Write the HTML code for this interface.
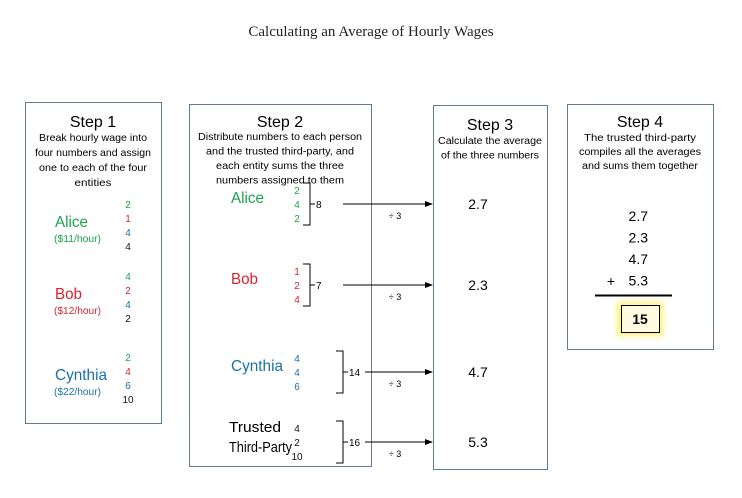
<!DOCTYPE html>
<html><head><meta charset="utf-8"><style>
html,body{margin:0;padding:0;background:#fff}
svg{display:block;font-family:"Liberation Sans",sans-serif}
</style></head><body>
<svg id="c" width="742" height="498" viewBox="0 0 742 498">
<defs>
<marker id="ah" markerWidth="8" markerHeight="6" refX="7" refY="3" orient="auto"><path d="M0,0 L8,3 L0,6 z" fill="#000"/></marker>
<filter id="glow" x="-50%" y="-50%" width="200%" height="200%"><feGaussianBlur stdDeviation="3"/></filter>
</defs>
<text x="371" y="36" text-anchor="middle" font-family="Liberation Serif, serif" font-size="15" fill="#222">Calculating an Average of Hourly Wages</text>
<rect x="25.5" y="102.5" width="136" height="321" fill="none" stroke="#5f7c99"/>
<rect x="189.5" y="104.5" width="182" height="362" fill="none" stroke="#5f7c99"/>
<rect x="433.5" y="105.5" width="114" height="364" fill="none" stroke="#5f7c99"/>
<rect x="567.5" y="104.5" width="146" height="245" fill="none" stroke="#5f7c99"/>
<g id="g" fill="#000"></g>
</svg>
<script>
const people=["Alice","Bob","Cynthia"];
const wages=["($11/hour)","($12/hour)","($22/hour)"];
const colors=["#1aa34a","#d9232d","#1d6fa5","#111"];
const shares=[[2,1,4,4],[4,2,4,2],[2,4,6,10]];
const sums=[8,7,14,16];
const averages=["2.7","2.3","4.7","5.3"];
const total="15";
const g=document.getElementById('g');
const NS="http://www.w3.org/2000/svg";
function T(x,y,s,size,fill,anchor,weight,name,len){const t=document.createElementNS(NS,'text');t.setAttribute('x',x);t.setAttribute('y',y);t.setAttribute('font-size',size);t.setAttribute('fill',fill||'#000');t.setAttribute('text-anchor',anchor||'middle');if(weight)t.setAttribute('font-weight',weight);if(len){t.setAttribute('textLength',len);t.setAttribute('lengthAdjust','spacingAndGlyphs');}t.textContent=s;


g.appendChild(t);return t;}
function L(x1,y1,x2,y2,name,arrow,w){const l=document.createElementNS(NS,'line');l.setAttribute('x1',x1);l.setAttribute('y1',y1);l.setAttribute('x2',x2);l.setAttribute('y2',y2);l.setAttribute('stroke','#000');l.setAttribute('stroke-width',w||1);if(arrow)l.setAttribute('marker-end','url(#ah)');


g.appendChild(l);}
T(93,127,"Step 1",16,'#000','middle',null,'step1-title');
[["Break hourly wage into",108],["four numbers and assign",116],["one to each of the four",108],["entities",37]].forEach((s,i)=>T(93,141+i*15,s[0],10.5,'#000','middle',null,'step1-desc',s[1]));
T(280,127,"Step 2",16,'#000','middle',null,'step2-title');
[["Distribute numbers to each person",164],["and the trusted third-party, and",148],["each entity sums the three",128],["numbers assigned to them",128]].forEach((s,i)=>T(280,140+i*14.5,s[0],10,'#000','middle',null,'step2-desc',s[1]));
T(490,130,"Step 3",16,'#000','middle',null,'step3-title');
[["Calculate the average",104],["of the three numbers",98]].forEach((s,i)=>T(490,144+i*14.5,s[0],10,'#000','middle',null,'step3-desc',s[1]));
T(640,127,"Step 4",16,'#000','middle',null,'step4-title');
[["The trusted third-party",112],["compiles all the averages",122],["and sums them together",116]].forEach((s,i)=>T(640,141+i*14,s[0],10,'#000','middle',null,'step4-desc',s[1]));
const s1Top=[208,280,361];
const nameLen=[33,27,52];
people.forEach((p,i)=>{
  T(55,s1Top[i]+19,p,16,colors[i],'start',null,'step1-name-'+p.toLowerCase(),nameLen[i]);
  T(54,s1Top[i]+34,wages[i],10,colors[i],'start',null,'step1-wage-'+p.toLowerCase(),47);
  shares[i].forEach((v,j)=>T(128,s1Top[i]+j*14,String(v),10,colors[j],'middle',null,'step1-share'));
});
const entities=["Alice","Bob","Cynthia","Trusted"];
const s2Top=[194,275,362,432];
entities.forEach((e,k)=>{
  const y0=s2Top[k];
  if(k<3) T(231,y0+9,e,16,colors[k],'start',null,'step2-name-'+e.toLowerCase(),nameLen[k]);
  else {T(229,y0+0,"Trusted",15,'#000','start',null,'step2-name-trusted',52);T(229,y0+20,"Third-Party",15,'#000','start',null,'step2-name-third-party',63);}
  for(let i=0;i<3;i++) T(297,y0+i*14,String(shares[i][k]),10,colors[k],'middle',null,'step2-share');
  const top=y0-11,bot=y0+31,mid=(top+bot)/2;
  const bx=k<2?310:343;
  const p=document.createElementNS(NS,'path');p.setAttribute('d',`M${bx-7},${top} L${bx},${top} L${bx},${bot} L${bx-7},${bot} M${bx},${mid} L${bx+5},${mid}`);p.setAttribute('fill','none');p.setAttribute('stroke','#000');
  
  
  g.appendChild(p);
  T(bx+6,mid+4,String(sums[k]),10,'#000','start',null,'step2-sum');
  L(k<2?343:365,mid,432,mid,'arrow-to-step3',true);
  T(395,mid+15,"÷ 3",9,'#000','middle',null,'divide-by-3-label');
  T(478,mid+5,averages[k],14,'#000','middle',null,'step3-average');
});
averages.forEach((a,i)=>T(648,221+i*21.5,a,14,'#000','end',null,'step4-addend'));
T(611,286,"+",14,'#000','middle',null,'plus-sign');
L(595,295.5,672,295.5,'sum-line',false,2);
const gl=document.createElementNS(NS,'rect');gl.setAttribute('x',617);gl.setAttribute('y',302);gl.setAttribute('width',46);gl.setAttribute('height',34);gl.setAttribute('fill','#fff27a');gl.setAttribute('filter','url(#glow)');


g.appendChild(gl);
const bx=document.createElementNS(NS,'rect');bx.setAttribute('x',621.5);bx.setAttribute('y',305.5);bx.setAttribute('width',38);bx.setAttribute('height',27);bx.setAttribute('fill','#fffbe0');bx.setAttribute('stroke','#000');


g.appendChild(bx);
T(640,324,total,14,'#000','middle','bold','total-value');
</script>
</body></html>
